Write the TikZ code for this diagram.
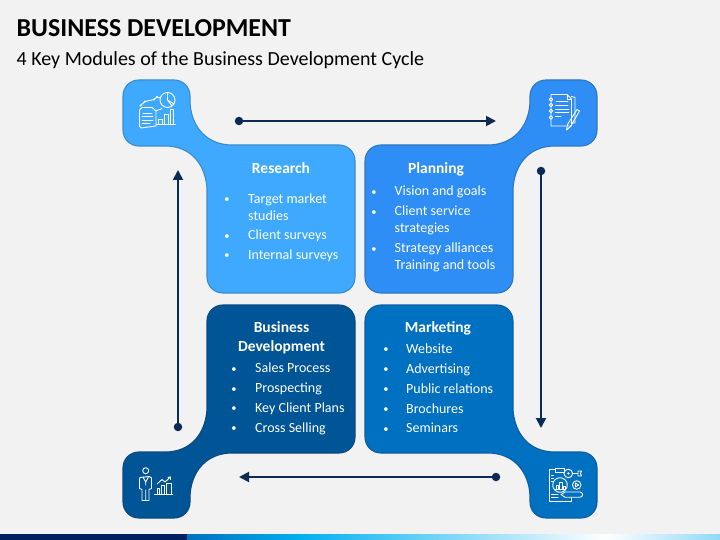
\documentclass[tikz,border=0pt]{standalone}
\usepackage{fontspec}
\setmainfont{Carlito}
\usetikzlibrary{arrows.meta}
\definecolor{bgc}{HTML}{F2F2F2}
\definecolor{resF}{HTML}{3FA9FF}
\definecolor{resS}{HTML}{3A8CCB}
\definecolor{plaF}{HTML}{2E8EF5}
\definecolor{plaS}{HTML}{2F76C0}
\definecolor{bizF}{HTML}{005596}
\definecolor{bizS}{HTML}{0A4A80}
\definecolor{marF}{HTML}{0070C0}
\definecolor{marS}{HTML}{0B5FA0}
\definecolor{arr}{HTML}{0B2B55}
\definecolor{navy}{HTML}{002060}
\definecolor{barB}{HTML}{0070C0}
\definecolor{barC}{HTML}{00B0F0}
\definecolor{barE}{HTML}{8FD9F7}
\newcommand{\blobpath}{
  (123,96) .. controls (123,87) and (130,80) .. (139,80) -- (174,80)
  .. controls (183,80) and (190,87) .. (190,96) -- (190,102)
  .. controls (191,127) and (207,145) .. (232,145) -- (339,145)
  .. controls (348,145) and (355,152) .. (355,161) -- (355,277)
  .. controls (355,286) and (348,293) .. (339,293) -- (223,293)
  .. controls (214,293) and (207,286) .. (207,277) -- (207,188)
  .. controls (205,163) and (190,146) .. (165,146) -- (139,146)
  .. controls (130,146) and (123,139) .. (123,130) -- cycle}
\tikzset{
  x=1pt,y=-1pt,
  blob/.style={line width=1.1pt,line join=round},
  heading/.style={font=\fontsize{15.5}{15.5}\selectfont\bfseries,text=white,anchor=base,inner sep=0pt},
  item/.style={font=\fontsize{14}{14}\selectfont,text=white,anchor=base west,inner sep=0pt,yshift=.4pt},
  dotb/.style={font=\fontsize{10.5}{10.5}\selectfont,text=white,anchor=base,inner sep=0pt,yshift=.9pt},
  flow/.style={draw=arr,line width=1.9pt,-{Triangle[length=10pt,width=10pt]}},
  startdot/.style={circle,fill=arr,minimum size=8.5pt,inner sep=0pt},
  ic/.style={draw=white,line width=.9pt,line join=round,line cap=round},
}
\begin{document}
\begin{tikzpicture}
\useasboundingbox (0,0) rectangle (720,540);
\fill[bgc] (0,0) rectangle (720,540);
% bottom band
\fill[navy] (0,534) rectangle (187,540);
\shade[left color=barB,right color=barC] (187,534) rectangle (300,540);
\shade[left color=barC,right color=white] (300,534) rectangle (605,540);
\shade[left color=white,right color=barE] (605,534) rectangle (720,540);
% titles
\node[anchor=base west,inner sep=0pt,font=\fontsize{25.9}{25.9}\selectfont\bfseries,text=black] (title) at (16.5,37) {BUSINESS DEVELOPMENT};
\node[anchor=base west,inner sep=0pt,font=\fontsize{20}{20}\selectfont,text=black] (subtitle) at (16.5,66) {4 Key Modules of the Business Development Cycle};
% blobs
\filldraw[blob,fill=resF,draw=resS] \blobpath;
\begin{scope}[shift={(720,0)},xscale=-1]
\filldraw[blob,fill=plaF,draw=plaS] \blobpath;
\end{scope}
\begin{scope}[shift={(0,598)},yscale=-1]
\filldraw[blob,fill=bizF,draw=bizS] \blobpath;
\end{scope}
\begin{scope}[shift={(720,598)},xscale=-1,yscale=-1]
\filldraw[blob,fill=marF,draw=marS] \blobpath;
\end{scope}
% flow arrows
\node[startdot] (d1) at (239,121) {};
\coordinate (e1) at (496,121);
\draw[flow] (d1.center) -- (e1);
\node[startdot] (d2) at (541,171) {};
\coordinate (e2) at (541,428);
\draw[flow] (d2.center) -- (e2);
\node[startdot] (d3) at (496,477) {};
\coordinate (e3) at (239,477);
\draw[flow] (d3.center) -- (e3);
\node[startdot] (d4) at (178,427) {};
\coordinate (e4) at (178,170);
\draw[flow] (d4.center) -- (e4);
% Research
\node[heading] (rh) at (281,174) {Research};
\node[dotb] (rb1) at (227,203.5) {•};
\node[item] (r1) at (248,203.5) {Target market};
\node[item] (r1b) at (248,220.5) {studies};
\node[dotb] (rb2) at (227,240) {•};
\node[item] (r2) at (248,240) {Client surveys};
\node[dotb] (rb3) at (227,259.5) {•};
\node[item] (r3) at (248,259.5) {Internal surveys};
% Planning
\node[heading] (ph) at (436,174) {Planning};
\node[dotb] (pb1) at (374,196) {•};
\node[item] (p1) at (394.5,196) {Vision and goals};
\node[dotb] (pb2) at (374,216) {•};
\node[item] (p2) at (394.5,216) {Client service};
\node[item] (p2b) at (394.5,233) {strategies};
\node[dotb] (pb3) at (374,253) {•};
\node[item] (p3) at (394.5,253) {Strategy alliances};
\node[item] (p3b) at (394.5,269.5) {Training and tools};
% Business Development
\node[heading] (bh1) at (281.5,332) {Business};
\node[heading] (bh2) at (281.5,351) {Development};
\node[dotb] (bb1) at (234,373) {•};
\node[item] (b1) at (255,373) {Sales Process};
\node[dotb] (bb2) at (234,393) {•};
\node[item] (b2) at (255,393) {Prospecting};
\node[dotb] (bb3) at (234,412.5) {•};
\node[item] (b3) at (255,412.5) {Key Client Plans};
\node[dotb] (bb4) at (234,432.5) {•};
\node[item] (b4) at (255,432.5) {Cross Selling};
% Marketing
\node[heading] (mh) at (438,332) {Marketing};
\node[dotb] (mb1) at (386,353.7) {•};
\node[item] (m1) at (406,353.7) {Website};
\node[dotb] (mb2) at (386,373.6) {•};
\node[item] (m2) at (406,373.6) {Advertising};
\node[dotb] (mb3) at (386,393.5) {•};
\node[item] (m3) at (406,393.5) {Public relations};
\node[dotb] (mb4) at (386,413.4) {•};
\node[item] (m4) at (406,413.4) {Brochures};
\node[dotb] (mb5) at (386,433.3) {•};
\node[item] (m5) at (406,433.3) {Seminars};
% icon: research
\begin{scope}[ic]
\draw (167.5,100) circle (7.5);
\draw (167.5,92.5) -- (167.5,100) -- (174,104) (167.5,100) -- (172,106);
\draw (140.5,105.5) -- (145,101.5) -- (154,99.5) -- (157,97) -- (160,98);
\fill[white] (140.5,105.5) circle (1.2) (145,101.5) circle (1.2) (154,99.5) circle (1.2) (157,97) circle (1.2);
\draw (142,107.5) -- (152,107.5) -- (156,111) -- (156,126) -- (141,128) -- (139.5,126) -- (139.5,110) -- cycle;
\draw (143,113) -- (152,113) (142,116.5) -- (153,116.5) (142,120) -- (153,120) (142,123.5) -- (150,123.5);
\draw (156,111) -- (162,108.5);
\draw (158.5,124) -- (158.5,119.5) -- (162,119.5) -- (162,124);
\draw (164,124) -- (164,114.5) -- (168,114.5) -- (168,124);
\draw (170,124) -- (170,109.5) -- (173.5,109.5) -- (173.5,124);
\draw (156,124.5) -- (175.5,124.5);
\end{scope}
% icon: planning
\begin{scope}[ic]
\draw (571.5,96.5) -- (575,97.5) -- (575,123) -- (571,123);
\draw (551,94.5) -- (567,94.5) -- (571.5,99) -- (571.5,126) -- (551,126) -- cycle;
\draw (567,94.5) -- (567,99) -- (571.5,99);
\foreach \yy in {99.5,105,111,117.5} \draw (551,\yy) circle (1.7);
\draw (556,101.5) -- (568,101.5) (555.5,105) -- (568,105) (555.5,109) -- (569,109) (555.5,112.5) -- (569,112.5) (555.5,116) -- (561,116);
\draw (566.5,130) -- (567.5,124.5) -- (577,109.5) -- (579.5,111) -- (570.5,126.5) -- cycle;
\end{scope}
% icon: business development
\begin{scope}[ic]
\draw (145.7,470.7) circle (3);
\draw (140,477.5) -- (149.5,476.5) -- (151.5,478) -- (151.5,488.5) -- (149,489.5) -- (149,500.5) -- (142,500.5) -- (142,489.5) -- (139.5,488.5) -- (139.5,479) -- cycle;
\draw (143,477) -- (145.7,482) -- (148.5,477) (145.7,500.5) -- (145.7,490) (145.7,482) -- (145.7,485);
\draw (154.5,494) -- (172.7,494);
\draw (157,494) -- (157,488) -- (159.5,488) -- (159.5,494);
\draw (161.5,494) -- (161.5,485) -- (164.5,485) -- (164.5,494);
\draw (166.5,494) -- (166.5,483.5) -- (171.5,483.5) -- (171.5,494);
\draw (157,484) -- (162,479.5) -- (165,482) -- (170.5,477);
\draw (168,477.5) -- (170.5,477) -- (170.5,479.5);
\end{scope}
% icon: marketing
\begin{scope}[ic]
\draw (555,469.5) -- (549,469.5) -- (549,501) -- (571,501) -- (571,497.5);
\draw (555,468.5) rectangle (564,472.5);
\draw (560,485) circle (7.3);
\draw (556,489) -- (556,485) -- (558.5,485) -- (558.5,489) (559.5,489) -- (559.5,482) -- (562,482) -- (562,489) (563,489) -- (563,486) -- (565,486) -- (565,489);
\draw (555,489.5) -- (565.5,489.5);
\draw (568.3,473.5) circle (4.3);
\fill[white] (568.3,473.5) circle (1.3);
\draw (572.6,473.5) -- (578,473.5);
\draw (578,471) -- (581.5,471) -- (580.5,473.5) -- (581.5,476) -- (578,476) -- cycle;
\draw (576.7,485) circle (4.3);
\draw (575.3,483) -- (578.7,485) -- (575.3,487) -- cycle;
\draw (561,494.5) -- (565,492) -- (580,492) arc (-90:90:2.6) -- (565,497.2) -- cycle;
\draw (551.5,475) -- (553.5,475) (551.5,478) -- (553.5,478) (551.5,481) -- (552.5,481) (551.5,497) -- (558,497) (551.5,494) -- (558,494);
\end{scope}
\end{tikzpicture}
\end{document}
